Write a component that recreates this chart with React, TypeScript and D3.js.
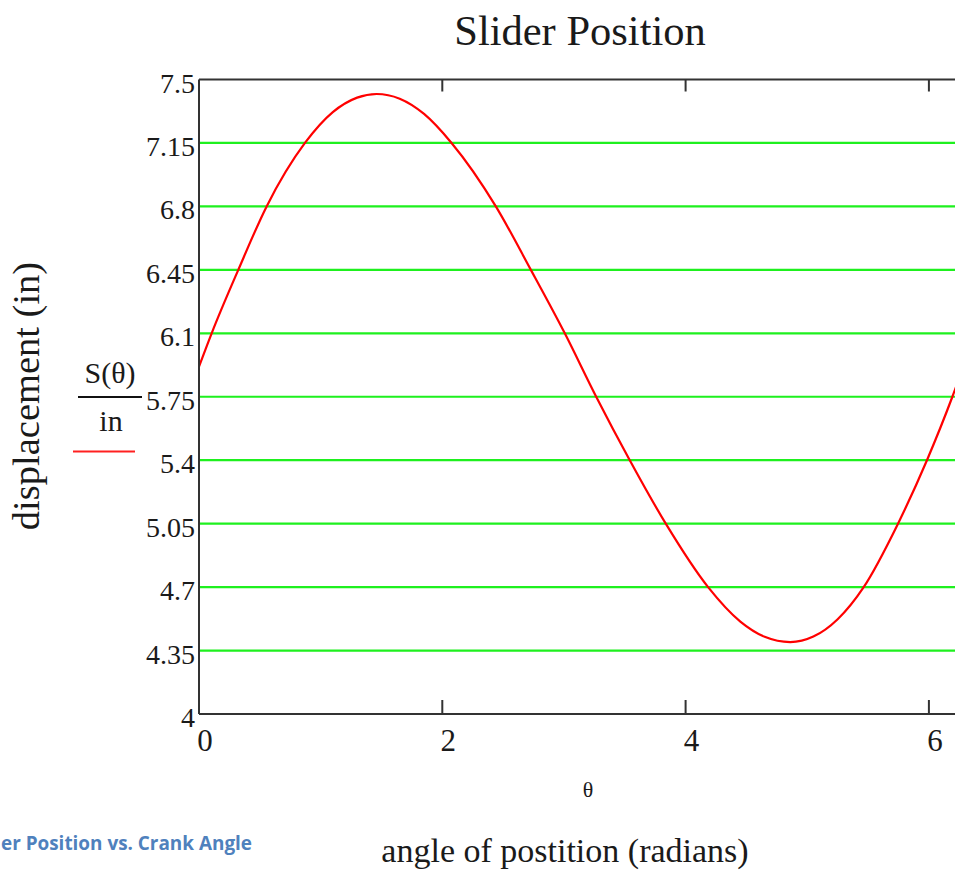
import React from "react";
import * as d3 from "d3";

const thetaVals = [0, 0.104, 0.323, 0.556, 0.871, 1.1, 1.3, 1.46, 1.65, 1.85, 2.076, 2.44, 2.728, 3.007, 3.265, 3.541, 3.837, 4.185, 4.45, 4.65, 4.86, 5.05, 5.25, 5.464, 5.746, 5.984, 6.193, 6.283];
const sVals = [5.916, 6.1, 6.45, 6.8, 7.15, 7.32, 7.4, 7.42, 7.394, 7.31, 7.15, 6.8, 6.45, 6.1, 5.75, 5.4, 5.05, 4.7, 4.51, 4.426, 4.397, 4.427, 4.523, 4.7, 5.05, 5.4, 5.75, 5.916];
const yTicks = [4, 4.35, 4.7, 5.05, 5.4, 5.75, 6.1, 6.45, 6.8, 7.15, 7.5];
const yTickLabels = ["4", "4.35", "4.7", "5.05", "5.4", "5.75", "6.1", "6.45", "6.8", "7.15", "7.5"];
const xTicks = [0, 2, 4, 6];

const W = 955;
const H = 873;
const left = 199;
const top = 79.5;
const bottom = 714;

export default function App() {
  const x = d3.scaleLinear().domain([0, 2]).range([left, 442.3]);
  const xMax = 2 * Math.PI;
  const y = d3.scaleLinear().domain([4, 7.5]).range([bottom, top]);
  const data = thetaVals.map((t, i) => [t, sVals[i]] as [number, number]);
  const line = d3
    .line<[number, number]>()
    .x((d) => x(d[0]))
    .y((d) => y(d[1]))
    .curve(d3.curveMonotoneX);
  const serif = "'Liberation Serif', 'Times New Roman', serif";
  const axisColor = "#333";
  const textColor = "#1a1a1a";
  return (
    <svg
      width={W}
      height={H}
      style={{ position: "absolute", left: 0, top: 0, background: "#fff" }}
      fontFamily={serif}
    >
      <rect x={0} y={0} width={W} height={H} fill="#fff" />
      <text x={580} y={45} fontSize={42.5} textAnchor="middle" fill={textColor}>
        Slider Position
      </text>
      {/* grid lines */}
      {yTicks
        .filter((v) => v > 4 && v < 7.5)
        .map((v) => (
          <line
            key={"g" + v}
            x1={left}
            x2={x(xMax)}
            y1={y(v)}
            y2={y(v)}
            stroke="#1ef01e"
            strokeWidth={2.2}
          />
        ))}
      {/* curve */}
      <path d={line(data) || ""} fill="none" stroke="#ff0000" strokeWidth={2.2} />
      {/* frame */}
      <line x1={left} x2={x(xMax)} y1={top} y2={top} stroke={axisColor} strokeWidth={2} />
      <line x1={left} x2={x(xMax)} y1={bottom} y2={bottom} stroke={axisColor} strokeWidth={2} />
      <line x1={left} x2={left} y1={top} y2={bottom} stroke={axisColor} strokeWidth={2} />
      {xTicks
        .filter((v) => v > 0)
        .map((v) => (
          <g key={"t" + v}>
            <line x1={x(v)} x2={x(v)} y1={top} y2={top + 12} stroke={axisColor} strokeWidth={2} />
            <line x1={x(v)} x2={x(v)} y1={bottom} y2={bottom - 14} stroke={axisColor} strokeWidth={2} />
          </g>
        ))}
      {/* y tick labels */}
      {yTicks.map((v, i) => (
        <text
          key={"yl" + v}
          x={195}
          y={y(v) + 13}
          fontSize={28}
          textAnchor="end"
          fill={textColor}
        >
          {yTickLabels[i]}
        </text>
      ))}
      {/* x tick labels */}
      {xTicks.map((v) => (
        <text
          key={"xl" + v}
          x={x(v) + 6}
          y={751}
          fontSize={31}
          textAnchor="middle"
          fill={textColor}
        >
          {v}
        </text>
      ))}
      {/* axis labels */}
      <text x={588} y={797} fontSize={22} textAnchor="middle" fill={textColor}>
        θ
      </text>
      <text x={565} y={862} fontSize={34} textAnchor="middle" fill={textColor}>
        angle of postition (radians)
      </text>
      <text
        transform="translate(39,396) rotate(-90)"
        fontSize={38.5}
        textAnchor="middle"
        fill={textColor}
      >
        displacement (in)
      </text>
      {/* legend */}
      <text x={110} y={383} fontSize={30} textAnchor="middle" fill={textColor}>
        S(θ)
      </text>
      <line x1={78} x2={142} y1={397} y2={397} stroke="#111" strokeWidth={2} />
      <text x={111} y={431} fontSize={30} textAnchor="middle" fill={textColor}>
        in
      </text>
      <line x1={73} x2={135} y1={451.5} y2={451.5} stroke="#ff2020" strokeWidth={2} />
      {/* caption fragment */}
      <text
        x={1}
        y={850}
        fontSize={19}
        fontWeight="bold"
        fontFamily="'Open Sans', 'Liberation Sans', sans-serif"
        fill="#4f81bd"
        textLength={251}
        lengthAdjust="spacingAndGlyphs"
      >
        er Position vs. Crank Angle
      </text>
    </svg>
  );
}
